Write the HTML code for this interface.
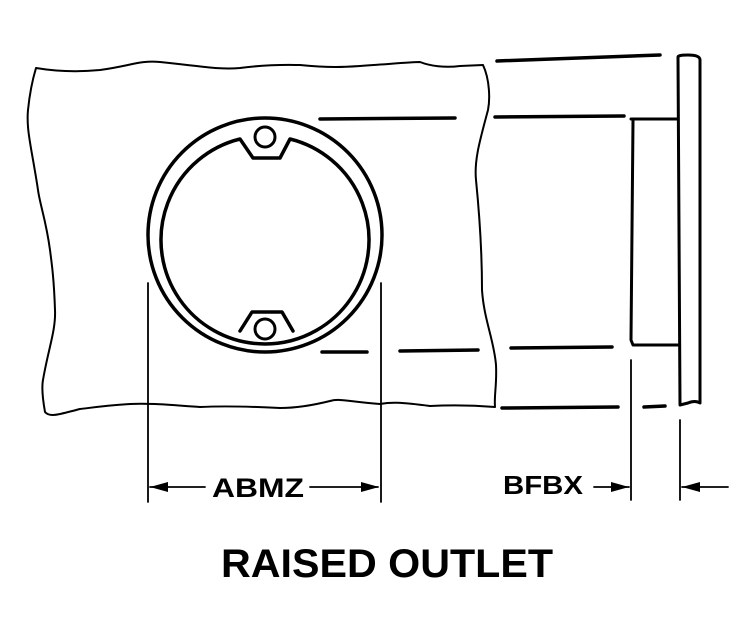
<!DOCTYPE html>
<html><head><style>body{margin:0;background:#fff}svg{display:block}</style></head><body>
<svg width="750" height="630" viewBox="0 0 750 630" xmlns="http://www.w3.org/2000/svg">
<g fill="none" stroke="#000" stroke-linecap="round" stroke-linejoin="round">
<path stroke-width="2" d="M36,68 C60,72 80,72 100,70 C130,66 140,60 160,62 C200,66 220,70 240,68 C270,64 290,65 300,65 C330,68 345,67 360,66 C390,64 410,62 420,62 C430,66 445,68 460,66 L483,65 C490,80 490,100 488,110 C480,140 474,160 476,180 C480,220 482,260 482,290 C484,320 494,340 496,365 C497,385 494,395 495,407 C470,405 450,405 430,406 C400,402 390,402 380,404 C350,402 340,398 330,401 C310,406 295,408 280,408 C240,406 220,406 200,407 C170,405 150,403 130,404 C100,406 90,408 80,409 C60,414 50,418 45,412 C42,395 42,385 43,380 C48,350 56,330 55,310 C54,280 52,265 50,250 C46,220 40,205 38,190 C32,150 26,130 28,110 C30,90 33,78 36,68 Z"/>
<circle cx="265" cy="235" r="117" stroke-width="3.5"/>
<path stroke-width="3.5" d="M240,139 L253,158 L280,158 L290,139 A104,104 0 1,1 240,139 Z" transform="translate(0,0)"/>
<circle cx="265" cy="137" r="10" stroke-width="3"/>
<path stroke-width="3.5" d="M240,331 L252,312 L282,312 L293,331"/>
<circle cx="265" cy="329" r="10" stroke-width="3"/>
<path stroke-width="3.5" d="M497,61 L660,55 M320,119 L455,118 M495,117 L624,116 M322,352 L367,352 M400,351 L478,350 M511,348 L612,347 M502,408 L618,407 M644,407 L665,406"/>
<path stroke-width="3" d="M631,119 L678,119 M633,121 L631,340 L633,345 L678,345"/>
<path stroke-width="3" d="M678,57 Q678,55 688,55 Q700,55 700,60 L700,403 Q695,400 688,403 L680,405 Z"/>
<path stroke-width="1.8" d="M148,283 L148,502 M381,283 L381,502 M631,360 L631,500 M680,420 L680,500 M150,487 L205,487 M310,487 L378,487 M594,487 L629,487 M682,487 L728,487"/>
</g>
<g fill="#000">
<path d="M150,487 L168,482 L168,492 Z M379,487 L361,482 L361,492 Z M629,487 L611,482 L611,492 Z M682,487 L700,482 L700,492 Z"/>
</g>
<g font-family="Liberation Sans, sans-serif" font-weight="bold" fill="#000">
<text x="212" y="497" font-size="27" textLength="92" lengthAdjust="spacingAndGlyphs">ABMZ</text>
<text x="503" y="494" font-size="26" textLength="80" lengthAdjust="spacingAndGlyphs">BFBX</text>
<text x="221" y="577" font-size="40" textLength="332" lengthAdjust="spacingAndGlyphs">RAISED OUTLET</text>
</g>
</svg>
</body></html>
